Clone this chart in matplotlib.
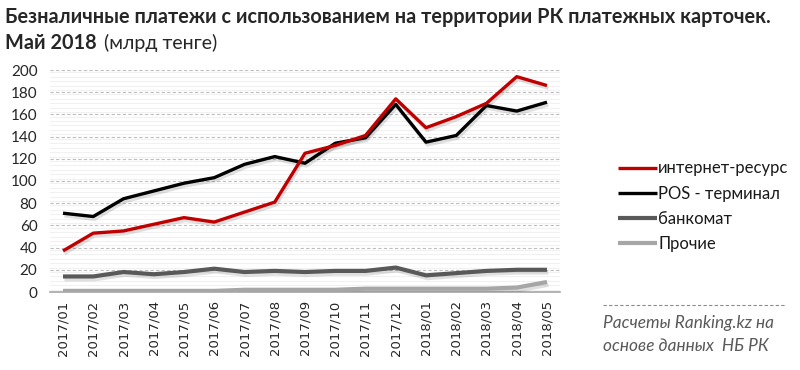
"""Безналичные платежи картами в РК, янв 2017 - май 2018 (млрд тенге)."""

import matplotlib
matplotlib.use("Agg")
import matplotlib.pyplot as plt
import matplotlib.patheffects as pe

MONTHS = ["2017/01", "2017/02", "2017/03", "2017/04", "2017/05", "2017/06",
          "2017/07", "2017/08", "2017/09", "2017/10", "2017/11", "2017/12",
          "2018/01", "2018/02", "2018/03", "2018/04", "2018/05"]

internet = [37, 53, 55, 61, 67, 63, 72, 81, 125, 132, 141, 174,
            148, 158, 170, 194, 186]
pos = [71, 68, 84, 91, 98, 103, 115, 122, 116, 134, 139, 169,
       135, 141, 168, 163, 171]
atm = [14, 14, 18, 16, 18, 21, 18, 19, 18, 19, 19, 22,
       15, 17, 19, 20, 20]
other = [1, 1, 1, 1, 1, 1, 2, 2, 2, 2, 3, 3, 3, 3, 3, 4, 9]

SERIES = [
    ("интернет-ресурс", internet, "#c00000", 2.4),
    ("POS - терминал", pos, "#000000", 2.4),
    ("банкомат", atm, "#595959", 3.0),
    ("Прочие", other, "#a6a6a6", 3.0),
]

plt.rcParams["font.family"] = ["Lato", "DejaVu Sans"]

fig = plt.figure(figsize=(8, 3.7), dpi=100)
ax = fig.add_axes([50 / 800, 1 - 292 / 370, 510 / 800, 222 / 370])

# фон: мелкие полоски + пунктирная сетка
for y in range(2, 200, 4):
    ax.axhline(y, color="#f1f1f1", lw=0.8, zorder=0)
for y in range(20, 201, 20):
    ax.axhline(y, color="#bfbfbf", lw=0.8, ls=(0, (3, 2)), zorder=1)

x = list(range(len(MONTHS)))
handles = []
for name, vals, col, lw in reversed(SERIES):
    h, = ax.plot(x, vals, color=col, lw=lw, solid_joinstyle="round",
                 solid_capstyle="butt", zorder=3, label=name,
                 path_effects=[pe.SimpleLineShadow(offset=(1, -2),
                                                   alpha=0.12, rho=0.5),
                               pe.Normal()])
    handles.append(h)

ax.set_xlim(-0.43, 16.43)
ax.set_ylim(0, 200)
ax.set_yticks(range(0, 201, 20))
ax.set_xticks(x)
ax.set_xticklabels(MONTHS, rotation=90, fontsize=9.5, family="DejaVu Sans",
                   color="#262626")
ax.tick_params(axis="y", length=0, pad=9, labelsize=11, labelcolor="#262626")
ax.tick_params(axis="x", length=0, pad=6)
for s in ("top", "right", "left"):
    ax.spines[s].set_visible(False)
ax.spines["bottom"].set_color("#a6a6a6")
ax.spines["bottom"].set_linewidth(1.2)

leg = fig.legend(handles[::-1], [s[0] for s in SERIES], loc="upper left",
                 bbox_to_anchor=(610 / 800, 1 - 152 / 370), frameon=False,
                 borderpad=0, fontsize=12, handlelength=2.3, handletextpad=0.1,
                 labelspacing=0.55)
for t in leg.get_texts():
    t.set_color("#1a1a1a")
for lh in leg.get_lines():
    lh.set_path_effects([])

fig.text(5 / 800, 1 - 17 / 370,
         "Безналичные платежи с использованием на территории РК платежных карточек.",
         fontsize=14.3, fontweight="bold", color="#262626", va="center")
t1 = fig.text(5 / 800, 1 - 43 / 370, "Май 2018", fontsize=14.3,
              fontweight="bold", color="#262626", va="center")
fig.canvas.draw()
bb = t1.get_window_extent()
fig.text((bb.x1 + 7) / 800, 1 - 43 / 370, "(млрд тенге)", fontsize=14,
         color="#262626", va="center")

fig.add_artist(plt.Line2D([603 / 800, 785 / 800], [1 - 305 / 370] * 2,
                          color="#8c8c8c", lw=0.8, ls=(0, (3, 2))))
fig.text(603 / 800, 1 - 323 / 370, "Расчеты Ranking.kz на", fontsize=12.4,
         style="italic", color="#595959", va="center")
fig.text(603 / 800, 1 - 346 / 370, "основе данных  НБ РК", fontsize=12.4,
         style="italic", color="#595959", va="center")

fig.savefig("out.png", dpi=100, facecolor="white")
